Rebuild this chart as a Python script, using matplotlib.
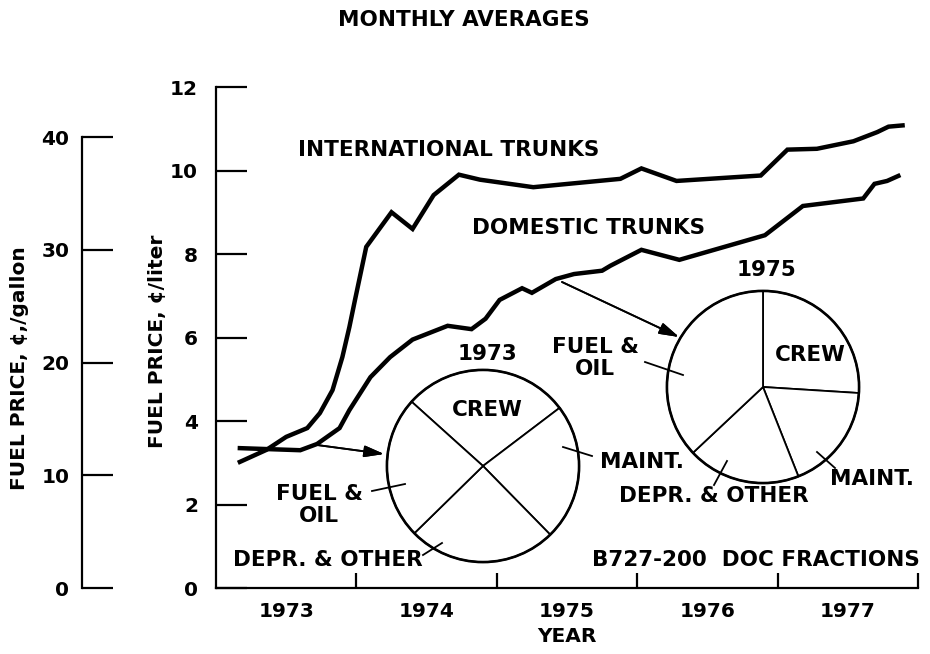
import matplotlib
matplotlib.use("Agg")
import matplotlib.pyplot as plt
from matplotlib.lines import Line2D
from matplotlib.patches import Circle

plt.rcParams['font.family'] = ['DejaVu Sans']
plt.rcParams['font.weight'] = 'bold'

# Monthly average fuel price, cents per liter
intl_year = [1973.17, 1973.36, 1973.50, 1973.65, 1973.74, 1973.83, 1973.90, 1973.95,
             1973.99, 1974.07, 1974.25, 1974.40, 1974.55, 1974.73, 1974.88, 1975.26,
             1975.88, 1976.03, 1976.28, 1976.88, 1977.07, 1977.28, 1977.54, 1977.71,
             1977.79, 1977.89]
intl_price = [3.02, 3.31, 3.62, 3.83, 4.19, 4.74, 5.53, 6.25,
              6.90, 8.17, 9.00, 8.60, 9.41, 9.90, 9.78, 9.60,
              9.80, 10.05, 9.75, 9.88, 10.50, 10.52, 10.70, 10.92,
              11.05, 11.08]

dom_year = [1973.17, 1973.60, 1973.72, 1973.88, 1973.95, 1974.10, 1974.24, 1974.40,
            1974.65, 1974.82, 1974.92, 1975.02, 1975.18, 1975.25, 1975.42, 1975.55,
            1975.75, 1975.81, 1976.03, 1976.30, 1976.91, 1977.18, 1977.61, 1977.69,
            1977.78, 1977.86]
dom_price = [3.35, 3.30, 3.45, 3.83, 4.26, 5.05, 5.53, 5.95,
             6.28, 6.20, 6.45, 6.90, 7.18, 7.07, 7.40, 7.52,
             7.60, 7.72, 8.10, 7.86, 8.45, 9.15, 9.33, 9.68,
             9.75, 9.87]

year_labels = ['1973', '1974', '1975', '1976', '1977']
year_bounds = [1974, 1975, 1976, 1977, 1978]
liter_ticks = [0, 2, 4, 6, 8, 10, 12]
gallon_ticks = [0, 10, 20, 30, 40]

# Direct operating cost fractions of the B727-200
doc_labels = ['CREW', 'MAINT.', 'DEPR. & OTHER', 'FUEL & OIL']
doc_1973 = [0.28, 0.23, 0.25, 0.24]
doc_1975 = [0.26, 0.18, 0.19, 0.37]

W, H = 930, 654
fig = plt.figure(figsize=(W / 100, H / 100), dpi=100)


def P(x, y):
    return (x / W, 1 - y / H)


def box(x0, y0, x1, y1):
    return [x0 / W, 1 - y1 / H, (x1 - x0) / W, (y1 - y0) / H]


FS = 14.5      # axis text
FA = 15.5      # annotations
LW_AX = 1.6

# main axes, cents per liter
ax = fig.add_axes(box(216, 87, 918, 588))
ax.plot(intl_year, intl_price, color='black', lw=3.2, solid_joinstyle='miter')
ax.plot(dom_year, dom_price, color='black', lw=3.2, solid_joinstyle='miter')
ax.set_xlim(1973, 1978)
ax.set_ylim(0, 12)
for s in ['top', 'right']:
    ax.spines[s].set_visible(False)
for s in ['left', 'bottom']:
    ax.spines[s].set_linewidth(LW_AX)
ax.set_yticks(liter_ticks)
ax.set_yticklabels([str(t) for t in liter_ticks], fontsize=FS, fontweight='bold')
ax.tick_params(axis='y', direction='in', length=22, width=LW_AX, pad=13)
ax.set_xticks(year_bounds)
ax.set_xticklabels([])
ax.tick_params(axis='x', which='major', direction='in', length=11, width=LW_AX)
ax.set_xticks([b - 0.5 for b in year_bounds], minor=True)
ax.set_xticklabels(year_labels, minor=True, fontsize=FS, fontweight='bold')
ax.tick_params(axis='x', which='minor', length=0, pad=10)
ax.patch.set_alpha(0)

# auxiliary scale, cents per gallon
ax2 = fig.add_axes(box(82, 87, 83, 588))
ax2.set_ylim(0, 40 * 501 / 451)
ax2.set_xlim(0, 1)
for s in ['top', 'right', 'bottom']:
    ax2.spines[s].set_visible(False)
ax2.spines['left'].set_linewidth(LW_AX)
ax2.spines['left'].set_bounds(0, 40)
ax2.set_xticks([])
ax2.set_yticks(gallon_ticks)
ax2.set_yticklabels([str(t) for t in gallon_ticks], fontsize=FS, fontweight='bold')
ax2.tick_params(axis='y', direction='in', length=22, width=LW_AX, pad=9)
ax2.patch.set_alpha(0)


def label(x, y, s, size=FA, **kw):
    fig.text(*P(x, y), s, ha='center', va='center', fontsize=size, fontweight='bold', **kw)


label(157, 341, 'FUEL PRICE, ¢/liter', size=FS, rotation=90)
label(20, 368, 'FUEL PRICE, ¢,/gallon', size=FS, rotation=90)
label(464, 20, 'MONTHLY AVERAGES')
label(567, 637, 'YEAR', size=FS)
label(449, 150, 'INTERNATIONAL TRUNKS')
label(589, 228, 'DOMESTIC TRUNKS')
label(756, 560, 'B727-200  DOC FRACTIONS')


def draw_pie(cx, cy, r, fracs, start):
    pax = fig.add_axes(box(cx - r, cy - r, cx + r, cy + r))
    pax.pie(fracs, startangle=start, counterclock=False, radius=1,
            wedgeprops=dict(facecolor='white', edgecolor='black', linewidth=1.3))
    pax.add_patch(Circle((0, 0), 1, fill=False, edgecolor='black', lw=1.9))
    pax.set_xlim(-1.02, 1.02)
    pax.set_ylim(-1.02, 1.02)
    pax.set_aspect('auto')
    pax.axis('off')
    return pax


draw_pie(483, 466, 98, doc_1973, 138)
draw_pie(763, 387, 98, doc_1975, 90)

# pie annotations
label(487, 354, '1973')
label(487, 410, doc_labels[0])
label(642, 462, doc_labels[1])
label(319, 505, 'FUEL &\nOIL', linespacing=1.1)
label(328, 560, doc_labels[2])

label(766, 270, '1975')
label(810, 355, doc_labels[0])
label(872, 479, doc_labels[1])
label(595, 358, 'FUEL &\nOIL', linespacing=1.1)
label(714, 496, doc_labels[2])

leaders = [((563, 447), (592, 456)), ((372, 491), (405, 484)), ((423, 555), (442, 543)),
           ((645, 362), (683, 375)), ((817, 452), (835, 468)), ((727, 461), (714, 485))]
for (x0, y0), (x1, y1) in leaders:
    fig.add_artist(Line2D([x0 / W, x1 / W], [1 - y0 / H, 1 - y1 / H], color='black', lw=1.3))

# arrows from the curve to the pies
for (x0, y0), (x1, y1) in [((317, 445), (384, 454)), ((562, 282), (679, 337))]:
    fig.add_artist(plt.annotate('', xy=P(x1, y1), xytext=P(x0, y0), xycoords='figure fraction',
                                textcoords='figure fraction',
                                arrowprops=dict(arrowstyle='-|>,head_length=1.2,head_width=0.35',
                                                color='black', lw=1.3, shrinkA=0, shrinkB=0)))

fig.savefig('out.png', dpi=100, facecolor='white')
